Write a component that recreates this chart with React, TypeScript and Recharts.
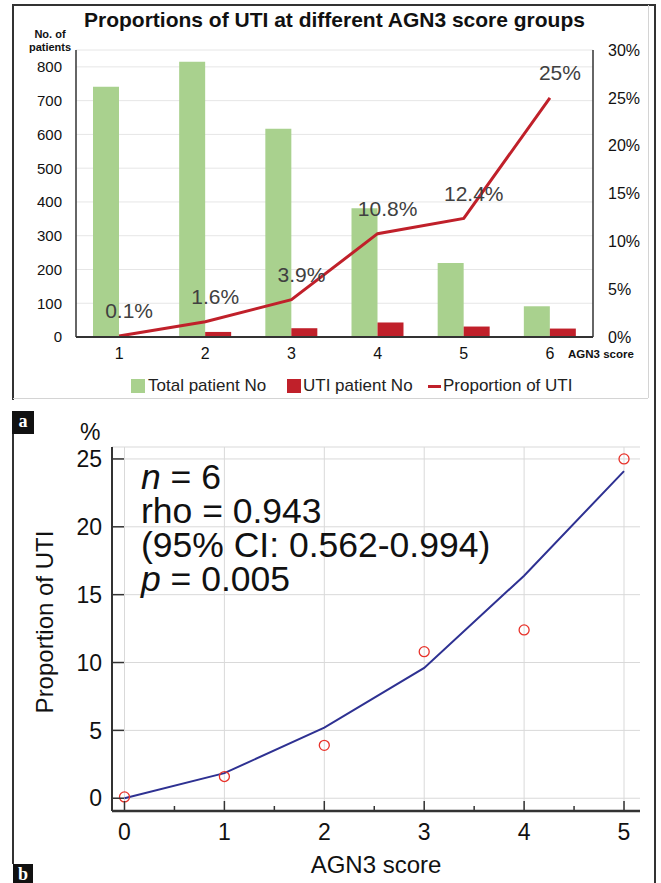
import React from 'react'
import {
  ComposedChart, Bar, Line, Scatter, XAxis, YAxis, CartesianGrid, LabelList, ReferenceLine,
} from 'recharts'

// panel a
const SCORES = ['1', '2', '3', '4', '5', '6']
const TOTAL_PATIENTS = [741, 815, 617, 381, 219, 91]
const UTI_PATIENTS = [3, 15, 26, 43, 31, 25]
const UTI_PROPORTION = [0.1, 1.6, 3.9, 10.8, 12.4, 25]
const LEFT_TICKS = [0, 100, 200, 300, 400, 500, 600, 700, 800]
const RIGHT_TICKS = [0, 5, 10, 15, 20, 25, 30]

// panel b
const B_SCORES = [0, 1, 2, 3, 4, 5]
const FIT_VALUES = [0, 1.85, 5.2, 9.6, 16.4, 24.1]
const B_X_TICKS = [0, 0.5, 1, 1.5, 2, 2.5, 3, 3.5, 4, 4.5, 5]
const B_Y_TICKS = [0, 5, 10, 15, 20, 25]
const STATS = ['n = 6', 'rho = 0.943', '(95% CI: 0.562-0.994)', 'p = 0.005']

const FONT = '"Liberation Sans", Arial, sans-serif'
const GREEN = '#a9d18e'
const RED = '#c0202a'

const barData = SCORES.map((s, i) => ({
  score: s, total: TOTAL_PATIENTS[i], uti: UTI_PATIENTS[i], prop: UTI_PROPORTION[i],
}))
const fitData = B_SCORES.map((x, i) => ({ x, y: FIT_VALUES[i] }))
const obsData = B_SCORES.map((x, i) => ({ x, y: UTI_PROPORTION[i] }))

function PropLabel(props: any) {
  const { x, y, value } = props
  return (
    <text x={x + 10} y={y - 25} dy="0.355em" textAnchor="middle" fontSize={21} fill="#404040">
      {value}%
    </text>
  )
}

function XTick(props: any) {
  const { x, y, payload } = props
  const v = payload.value
  const axisY = y - 13
  const major = Number.isInteger(v)
  return (
    <g>
      <line x1={x} x2={x} y1={axisY} y2={axisY - (major ? 10 : 5)} stroke="#333" strokeWidth={1.5} />
      {major && (
        <text x={x} y={y} dy="0.71em" textAnchor="middle" fontSize={23} fill="#111">{v}</text>
      )}
    </g>
  )
}

function YTick(props: any) {
  const { x, y, payload } = props
  const axisX = x + 10
  return (
    <g>
      <line x1={axisX} x2={axisX + 12} y1={y} y2={y} stroke="#333" strokeWidth={1.5} />
      <text x={x} y={y} dy="0.355em" textAnchor="end" fontSize={23} fill="#111">{payload.value}</text>
    </g>
  )
}

function Circle(props: any) {
  const { cx, cy } = props
  return <circle cx={cx} cy={cy} r={5} fill="none" stroke="#e8322a" strokeWidth={1.3} />
}

const abs = (s: React.CSSProperties): React.CSSProperties => ({ position: 'absolute', ...s })

export default function App() {
  return (
    <div style={abs({ left: 0, top: 0, width: 661, height: 883, background: '#fff', fontFamily: FONT, color: '#111' })}>
      {/* frame */}
      <div style={abs({ left: 12, top: 4, width: 644, height: 1.5, background: '#333' })} />
      <div style={abs({ left: 12, top: 4, width: 1.5, height: 396, background: '#333' })} />
      <div style={abs({ left: 12, top: 434, width: 1.5, height: 430, background: '#333' })} />
      <div style={abs({ left: 654, top: 4, width: 1.5, height: 879, background: '#333' })} />
      <div style={abs({ left: 13, top: 398, width: 635, height: 1, background: '#d4d4d4' })} />
      <div style={abs({ left: 648, top: 5, width: 1, height: 393, background: '#d4d4d4' })} />
      <div style={abs({ left: 12, top: 411, width: 22, height: 23, background: '#111', color: '#fff', fontFamily: '"Liberation Serif", serif', fontWeight: 700, fontSize: 18, lineHeight: '21px', textAlign: 'center' })}>a</div>
      <div style={abs({ left: 13, top: 864, width: 20, height: 19, background: '#111', color: '#fff', fontFamily: '"Liberation Serif", serif', fontWeight: 700, fontSize: 18, lineHeight: '20px', textAlign: 'center' })}>b</div>

      {/* panel a */}
      <div style={abs({ left: 0, top: 9, width: 669, textAlign: 'center', fontWeight: 700, fontSize: 21, lineHeight: '22px' })}>
        Proportions of UTI at different AGN3 score groups
      </div>
      <div style={abs({ left: 20, top: 28, width: 60, textAlign: 'center', fontWeight: 700, fontSize: 11, lineHeight: '13px' })}>
        No. of<br />patients
      </div>
      <div style={abs({ left: 0, top: 0 })}>
        <ComposedChart width={661} height={400} data={barData} margin={{ top: 50, right: 0, bottom: 33, left: 0 }} barGap={0}>
          <CartesianGrid yAxisId="left" vertical={false} stroke="#e6e6e6" />
          <XAxis dataKey="score" height={30} tickSize={0} tickMargin={11} tickLine={false}
            axisLine={{ stroke: '#333', strokeWidth: 2 }} tick={{ fontSize: 16, fill: '#111' }} />
          <YAxis yAxisId="left" width={76} domain={[0, 850]} ticks={LEFT_TICKS} tickSize={0} tickMargin={14}
            tickLine={false} axisLine={{ stroke: '#333', strokeWidth: 1.5 }} tick={{ fontSize: 15, fill: '#111' }} />
          <YAxis yAxisId="right" orientation="right" width={68} domain={[0, 30]} ticks={RIGHT_TICKS}
            tickSize={0} tickMargin={15} tickLine={false} axisLine={{ stroke: '#333', strokeWidth: 1.5 }}
            tick={{ fontSize: 16, fill: '#111', textAnchor: 'start' }} tickFormatter={(v: number) => `${v}%`} />
          <Bar yAxisId="left" dataKey="total" fill={GREEN} barSize={26} isAnimationActive={false} />
          <Bar yAxisId="left" dataKey="uti" fill={RED} barSize={26} isAnimationActive={false} />
          <Line yAxisId="right" dataKey="prop" type="linear" stroke={RED} strokeWidth={3} dot={false} isAnimationActive={false}>
            <LabelList dataKey="prop" content={<PropLabel />} />
          </Line>
        </ComposedChart>
      </div>
      <div style={abs({ left: 568, top: 348, fontWeight: 700, fontSize: 11.5, lineHeight: '12px' })}>AGN3 score</div>
      {/* legend */}
      <div style={abs({ left: 131, top: 379, width: 14, height: 14, background: GREEN })} />
      <div style={abs({ left: 148, top: 377, fontSize: 17, lineHeight: '17px', color: '#222' })}>Total patient No</div>
      <div style={abs({ left: 287, top: 379, width: 14, height: 14, background: RED })} />
      <div style={abs({ left: 303, top: 377, fontSize: 17, lineHeight: '17px', color: '#222' })}>UTI patient No</div>
      <div style={abs({ left: 428, top: 385, width: 13, height: 3, background: RED })} />
      <div style={abs({ left: 443, top: 377, fontSize: 17, lineHeight: '17px', color: '#222' })}>Proportion of UTI</div>

      {/* panel b */}
      <div style={abs({ left: 0, top: 420 })}>
        <ComposedChart width={661} height={463} margin={{ top: 27, right: 21, bottom: 32, left: 0 }}>
          <CartesianGrid vertical={false} stroke="#d9d9d9" />
          {B_SCORES.map((v) => (
            <ReferenceLine key={v} x={v} stroke="#d9d9d9" strokeWidth={1} />
          ))}
          <XAxis type="number" dataKey="x" domain={[-0.125, 5.16]} ticks={B_X_TICKS} interval={0} allowDataOverflow
            height={40} tickSize={0} tickMargin={13} tickLine={false} tick={<XTick />}
            axisLine={{ stroke: '#333', strokeWidth: 2.5 }} />
          <YAxis type="number" dataKey="y" domain={[-0.94, 25.88]} ticks={B_Y_TICKS} interval={0} allowDataOverflow
            width={112} tickSize={0} tickMargin={10} tickLine={false} tick={<YTick />}
            axisLine={{ stroke: '#333', strokeWidth: 2 }} />
          <Line data={fitData} dataKey="y" type="linear" stroke="#2e3192" strokeWidth={2} dot={false} isAnimationActive={false} />
          <Scatter data={obsData} dataKey="y" shape={<Circle />} isAnimationActive={false} />
        </ComposedChart>
      </div>
      <div style={abs({ left: 80, top: 421, fontSize: 23, lineHeight: '23px' })}>%</div>
      <div style={abs({ left: -105, top: 610, width: 300, height: 24, textAlign: 'center', fontSize: 24, lineHeight: '24px', transform: 'rotate(-90deg)' })}>
        Proportion of UTI
      </div>
      <div style={abs({ left: 226, top: 853, width: 300, textAlign: 'center', fontSize: 24, lineHeight: '24px' })}>AGN3 score</div>
      <div style={abs({ left: 141, top: 460, fontSize: 35.5, lineHeight: '34px', whiteSpace: 'nowrap' })}>
        {STATS.map((s, i) => {
          const italic = s.startsWith('n ') || s.startsWith('p ')
          return (
            <React.Fragment key={s}>
              {i > 0 && <br />}
              {italic ? <><i>{s[0]}</i>{s.slice(1)}</> : s}
            </React.Fragment>
          )
        })}
      </div>
    </div>
  )
}
